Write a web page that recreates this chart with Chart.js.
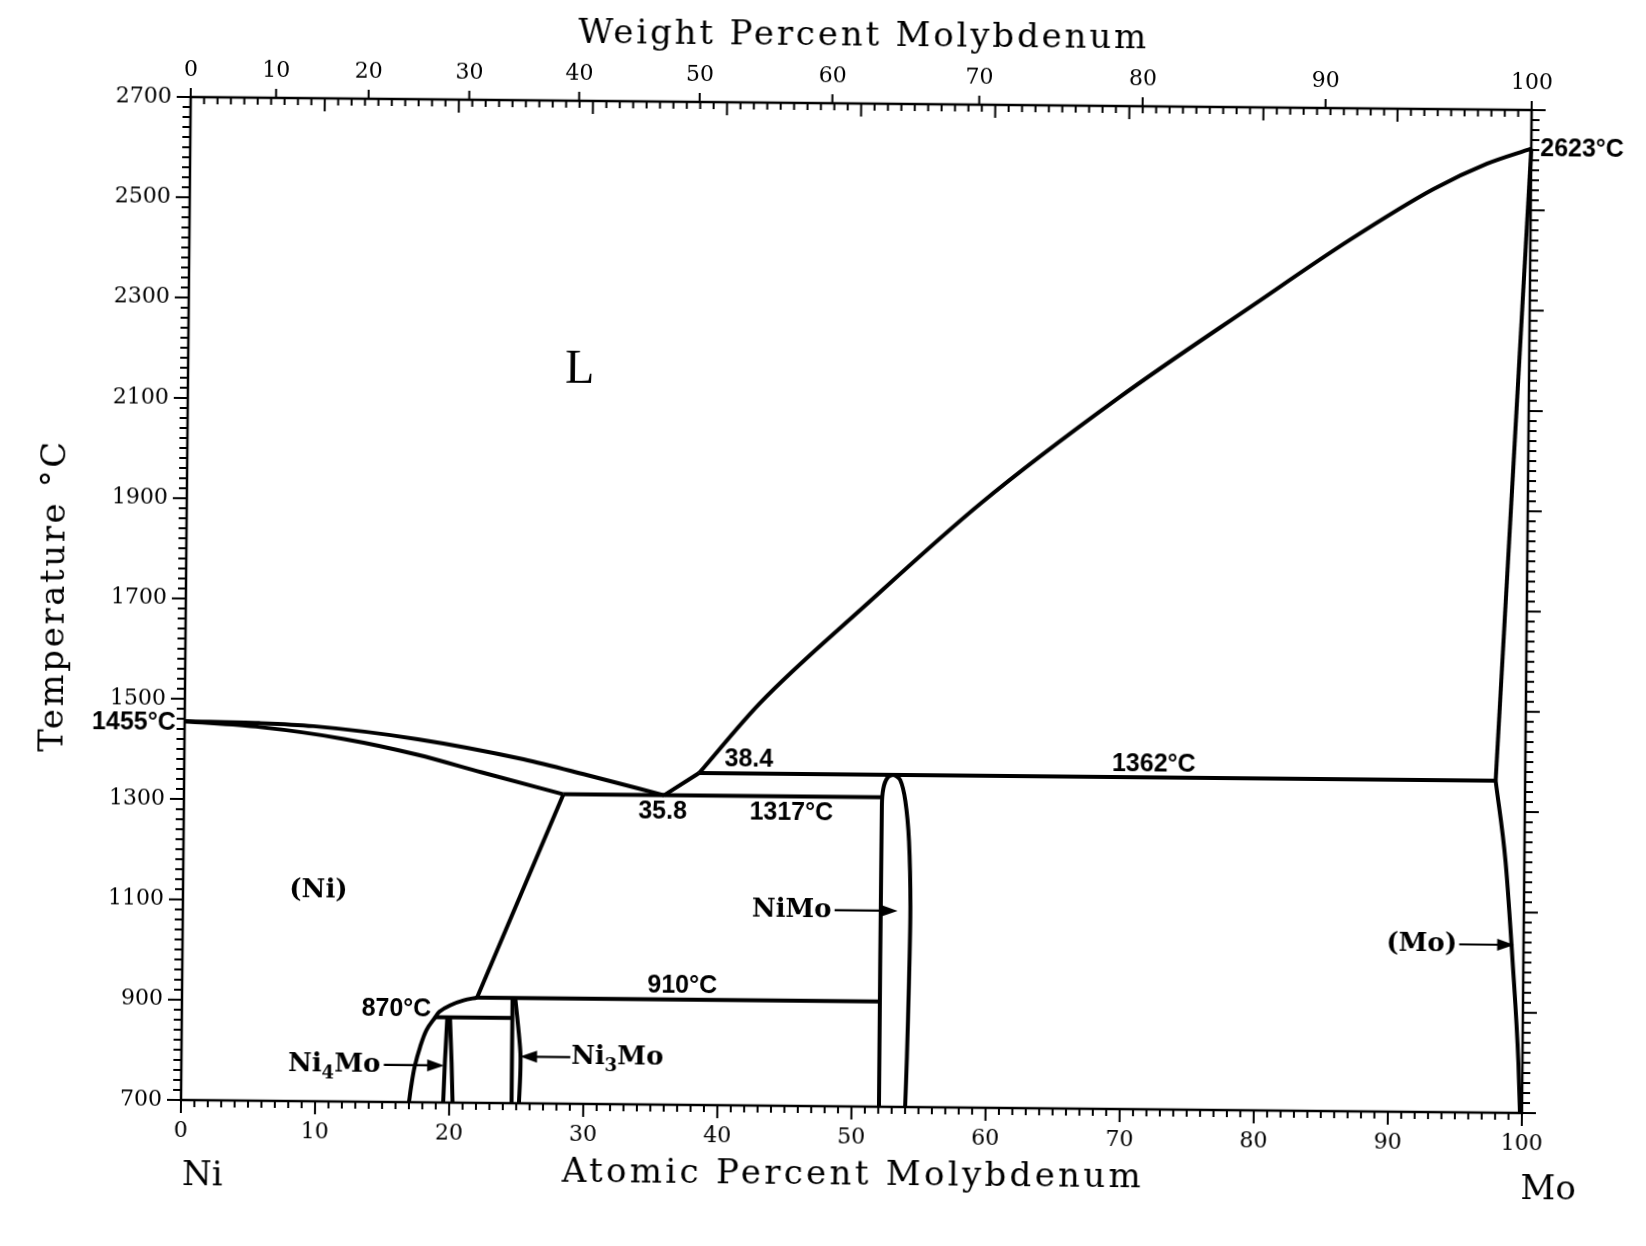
<!DOCTYPE html>
<html><head><meta charset="utf-8">
<script src="https://cdn.jsdelivr.net/npm/chart.js@4"></script>
<style>
html,body{margin:0;padding:0;background:#fff;overflow:hidden}
#wrap{position:absolute;left:0;top:0;width:1646px;height:1246px;transform-origin:181px 1100px;transform:rotate(0.555deg)}
canvas{display:block}
</style>
</head><body><div id="wrap"><canvas id="c" width="1646" height="1246"></canvas></div>
<script>
// ---------- axis tick values ----------
const atTicks   = [0,10,20,30,40,50,60,70,80,90,100];
const tempTicks = [700,900,1100,1300,1500,1700,1900,2100,2300,2500,2700];
const wtTicks   = [0,10,20,30,40,50,60,70,80,90,100];
const M_NI = 58.69, M_MO = 95.95;
function wtToAt(w){ return 100*(w/M_MO)/((w/M_MO)+((100-w)/M_NI)); }

// ---------- phase boundaries [at.% Mo, °C] ----------
const liquidusNi   = [[0,1455],[5.6,1453],[9.6,1448],[17.4,1424],[25.3,1386],[30.0,1356],[35.8,1317]];
const solidusNi    = [[0,1455],[5.65,1445],[11.9,1423],[17.4,1393],[22.2,1359],[28.3,1317]];
const solvusNi     = [[28.3,1317],[22.0,910]];
const niNi4Mo      = [[22.0,910],[21.0,904],[20.0,894],[19.2,881],[18.9,870],[18.25,844],[17.8,811],[17.4,771],[17.15,731],[17.0,700]];
const line870      = [[18.9,870],[24.65,870]];
const line910      = [[22.0,910],[52.05,910]];
const ni4MoLeft    = [[19.8,870],[19.65,780],[19.55,700]];
const ni4MoRight   = [[20.0,870],[20.15,780],[20.25,700]];
const ni3MoLeft    = [[24.65,910],[24.65,700]];
const ni3MoRight   = [[24.85,910],[25.15,838],[25.28,798],[25.28,758],[25.2,700]];
const eutectic1317 = [[28.3,1317],[52.05,1317]];
const liquidusLow  = [[35.8,1317],[38.4,1362]];
const liquidusMo   = [[38.4,1362],[42.9,1503],[50.7,1700],[59.2,1905],[69.4,2118],[79.5,2308],[86.5,2437],[92.7,2540],[96.7,2592],[100,2623]];
const peritectic1362 = [[38.4,1362],[97.8,1362]];
const niMoPhase    = [[52.05,700],[52.05,1300],[52.15,1335],[52.45,1356],[52.9,1362],[53.4,1352],[53.8,1310],[54.1,1230],[54.25,1100],[54.2,950],[54.1,800],[54.0,700]];
const solvusMo     = [[97.8,1362],[98.6,1200],[99.2,1000],[99.7,800],[99.85,700]];
const solidusMo    = [[97.8,1362],[100,2623]];

const curves = [
  [liquidusNi,'m'],[solidusNi,'m'],[solvusNi,0],[niNi4Mo,0.35],[line870,0],[line910,0],
  [ni4MoLeft,0],[ni4MoRight,0],[ni3MoLeft,0],[ni3MoRight,0.35],[eutectic1317,0],[liquidusLow,0],
  [liquidusMo,'m'],[peritectic1362,0],[niMoPhase,0.3],[solvusMo,'m'],[solidusMo,0]
];

// ---------- annotations (data coordinates) ----------
const labels = [
  {t:'L', x:29.2, y:2162, f:'48px "Liberation Serif"'},
  {t:'(Ni)', x:10.1, y:1121, f:'bold 26px "DejaVu Serif"'},
  {t:'38.4', x:42.1, y:1390, f:'bold 25px "Liberation Sans"'},
  {t:'35.8', x:35.7, y:1284, f:'bold 25px "Liberation Sans"'},
  {t:'1317°C', x:45.3, y:1284, f:'bold 25px "Liberation Sans"'},
  {t:'1362°C', x:72.3, y:1387, f:'bold 25px "Liberation Sans"'},
  {t:'910°C', x:37.3, y:937, f:'bold 25px "Liberation Sans"'},
  {t:'870°C', x:18.6, y:886, f:'bold 25px "Liberation Sans"', a:'right'}
];
const arrows = [
  {t:[['NiMo',0]], x:45.4, y:1091, from:48.6, to:53.3},
  {t:[['(Mo)',0]], x:92.4, y:1035, from:95.2, to:99.3},
  {t:[['Ni',0],['4',1],['Mo',0]], x:11.4, y:774, from:15.1, to:19.6},
  {t:[['Ni',0],['3',1],['Mo',0]], x:32.5, y:793, from:29.0, to:25.25}
];

const BLK = '#000';
function drawSpaced(ctx, s, cx, cy, targetW){
  ctx.letterSpacing = '0px';
  const w0 = ctx.measureText(s).width;
  const ls = (targetW - w0)/(s.length-1);
  ctx.letterSpacing = ls + 'px';
  ctx.textAlign = 'left';
  ctx.fillText(s, cx - targetW/2, cy);
  ctx.letterSpacing = '0px';
}

const decor = {
  id:'decor',
  afterDraw(chart){
    const ctx = chart.ctx, xs = chart.scales.x, ys = chart.scales.y, a = chart.chartArea;
    const X = v => xs.getPixelForValue(v), Y = v => ys.getPixelForValue(v);
    ctx.save();
    ctx.strokeStyle = BLK; ctx.fillStyle = BLK; ctx.lineCap = 'butt';
    // frame
    ctx.lineWidth = 2.5;
    ctx.strokeRect(a.left, a.top, a.right - a.left, a.bottom - a.top);
    ctx.lineWidth = 2;
    ctx.beginPath();
    // bottom ticks (1 at.%), outward
    for (let v = 0; v <= 100; v++){
      const L = v % 10 === 0 ? 13 : 7;
      ctx.moveTo(X(v), a.bottom); ctx.lineTo(X(v), a.bottom + L);
    }
    // top: at.% ticks inward
    for (let v = 1; v < 100; v++){
      const L = v % 10 === 0 ? 13 : 7;
      ctx.moveTo(X(v), a.top); ctx.lineTo(X(v), a.top + L);
    }
    // top: wt.% labelled ticks outward
    for (const w of wtTicks){ const px = X(wtToAt(w)); ctx.moveTo(px, a.top); ctx.lineTo(px, a.top - 9); }
    // left & right temperature ticks every 20 °C
    for (let t = 700; t <= 2700; t += 20){
      const L = (t - 700) % 200 === 0 ? 14 : 8;
      ctx.moveTo(a.left, Y(t)); ctx.lineTo(a.left - L, Y(t));
      ctx.moveTo(a.right, Y(t)); ctx.lineTo(a.right + L, Y(t));
    }
    ctx.stroke();

    // region / value labels
    for (const l of labels){
      ctx.font = l.f; ctx.textAlign = l.a || 'center'; ctx.textBaseline = 'middle';
      ctx.fillText(l.t, X(l.x), Y(l.y));
    }
    // outside labels
    ctx.font = 'bold 25px "Liberation Sans"'; ctx.textBaseline = 'middle';
    ctx.textAlign = 'left';  ctx.fillText('2623°C', X(100) + 9, Y(2623));
    ctx.textAlign = 'right'; ctx.fillText('1455°C', X(0) - 9, Y(1455) + 2);

    // phase labels with arrows
    for (const ar of arrows){
      const big = 'bold 26px "DejaVu Serif"', sub = 'bold 18px "DejaVu Serif"';
      let w = 0;
      for (const [s, isSub] of ar.t){ ctx.font = isSub ? sub : big; w += ctx.measureText(s).width; }
      let px = X(ar.x) - w/2; const py = Y(ar.y);
      ctx.textAlign = 'left'; ctx.textBaseline = 'middle';
      for (const [s, isSub] of ar.t){
        ctx.font = isSub ? sub : big;
        ctx.fillText(s, px, py + (isSub ? 9 : 0));
        px += ctx.measureText(s).width;
      }
      const x0 = X(ar.from), x1 = X(ar.to), dir = Math.sign(x1 - x0);
      ctx.lineWidth = 2.2;
      ctx.beginPath(); ctx.moveTo(x0, py); ctx.lineTo(x1 - dir*12, py); ctx.stroke();
      ctx.beginPath(); ctx.moveTo(x1, py); ctx.lineTo(x1 - dir*17, py - 6); ctx.lineTo(x1 - dir*17, py + 6); ctx.closePath(); ctx.fill();
    }

    // axis titles
    ctx.font = '34px "DejaVu Serif"'; ctx.textBaseline = 'middle';
    drawSpaced(ctx, 'Weight Percent Molybdenum', 852, 30, 568);
    drawSpaced(ctx, 'Atomic Percent Molybdenum', 852, 1169, 579);
    ctx.textAlign = 'center';
    ctx.fillText('Ni', 203, 1176);
    ctx.fillText('Mo', 1549, 1177);
    ctx.save();
    ctx.translate(50, 598); ctx.rotate(-Math.PI/2);
    drawSpaced(ctx, 'Temperature °C', 0, 0, 310);
    ctx.restore();
    ctx.restore();
  }
};

const tickFont = {family:'DejaVu Serif', size:22};
new Chart(document.getElementById('c'), {
  type:'scatter',
  data:{ datasets: curves.map(([pts, ten]) => ({
    data: pts.map(([x,y]) => ({x,y})), showLine:true, pointRadius:0, borderColor:BLK,
    borderWidth:4, fill:false, clip:false,
    tension: ten === 'm' ? 0.4 : ten,
    cubicInterpolationMode: ten === 'm' ? 'monotone' : 'default'
  }))},
  options:{
    responsive:false, devicePixelRatio:1, animation:false, events:[],
    layout:{padding:{left:0, right:124, top:0, bottom:0}},
    plugins:{legend:{display:false}, tooltip:{enabled:false}, title:{display:false}},
    scales:{
      x:{type:'linear', position:'bottom', min:0, max:100,
         afterBuildTicks: s => { s.ticks = atTicks.map(v => ({value:v})); },
         ticks:{font:tickFont, color:BLK, padding:18, maxRotation:0, autoSkip:false, callback: v => String(v)},
         grid:{display:false, drawTicks:false}, border:{display:false},
         afterFit: s => { s.height = 146; }},
      x2:{type:'linear', position:'top', min:0, max:100,
         afterBuildTicks: s => { s.ticks = wtTicks.map(w => ({value:wtToAt(w)})); },
         ticks:{font:tickFont, color:BLK, padding:14, maxRotation:0, autoSkip:false,
                callback:(v,i) => String(wtTicks[i])},
         grid:{display:false, drawTicks:false}, border:{display:false},
         afterFit: s => { s.height = 97; }},
      y:{type:'linear', position:'left', min:700, max:2700,
         afterBuildTicks: s => { s.ticks = tempTicks.map(v => ({value:v})); },
         ticks:{font:tickFont, color:BLK, padding:19, autoSkip:false, callback: v => String(v)},
         grid:{display:false, drawTicks:false}, border:{display:false},
         afterFit: s => { s.width = 181; }}
    }
  },
  plugins:[decor]
});
</script>
</body></html>
